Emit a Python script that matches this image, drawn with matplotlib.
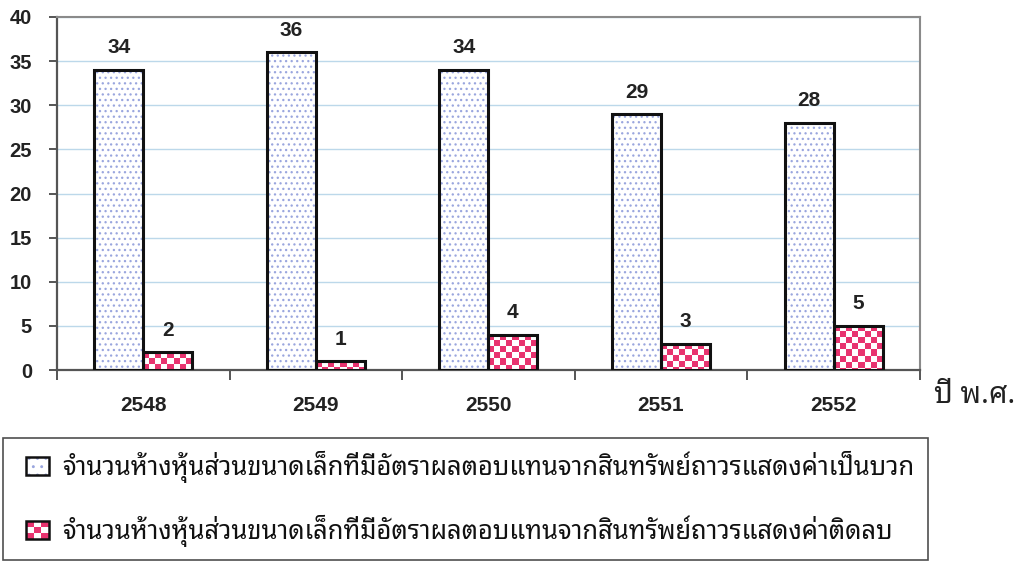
import matplotlib
matplotlib.use('Agg')
import matplotlib.pyplot as plt
from matplotlib import font_manager
from matplotlib.ft2font import FT2Font
from matplotlib.patches import Rectangle, Patch
from matplotlib.legend_handler import HandlerBase
import numpy as np

# ---------------- data ----------------
years = ['2548', '2549', '2550', '2551', '2552']
positive_counts = [34, 36, 34, 29, 28]
negative_counts = [2, 1, 4, 3, 5]
y_ticks = [0, 5, 10, 15, 20, 25, 30, 35, 40]
legend_labels = [
    'จำนวนห้างหุ้นส่วนขนาดเล็กที่มีอัตราผลตอบแทนจากสินทรัพย์ถาวรแสดงค่าเป็นบวก',
    'จำนวนห้างหุ้นส่วนขนาดเล็กที่มีอัตราผลตอบแทนจากสินทรัพย์ถาวรแสดงค่าติดลบ',
]
x_axis_title = 'ปี พ.ศ.'

# ---------------- fonts ----------------
def find_thai_font():
    prefs = ['Noto Sans Thai Looped', 'Noto Serif Thai', 'Noto Sans Thai',
             'Noto Sans Thai UI', 'Loma', 'Garuda', 'Norasi', 'Kinnari',
             'Waree', 'Sawasdee', 'Laksaman', 'TlwgTypo']
    found = {}
    for f in font_manager.fontManager.ttflist:
        try:
            cm = FT2Font(f.fname).get_charmap()
        except Exception:
            continue
        if 0x0E08 in cm and 0x0E33 in cm:
            found.setdefault(f.name, f.fname)
    for p in prefs:
        if p in found:
            return p
    if found:
        return sorted(found)[0]
    return 'DejaVu Sans'

THAI = find_thai_font()
NUM = 'Liberation Sans'

PINK = '#E8336F'
DOT = '#9AA6DE'
GRID = '#BCD8EA'
TXT = '#222222'

plt.rcParams['hatch.linewidth'] = 0.9

fig = plt.figure(figsize=(10.22, 5.65), dpi=100)
ax = fig.add_axes([0.0557, 0.345, 0.8443, 0.625])

x = np.arange(len(years))
w = 0.284

ax.set_xlim(-0.5, len(years) - 0.5)
ax.set_ylim(0, 40)

# positive bars: dotted fill
ax.bar(x - w / 2, positive_counts, w, facecolor='white', edgecolor=DOT,
       hatch='...', linewidth=0, zorder=2)
ax.bar(x - w / 2, positive_counts, w, facecolor='none', edgecolor='#111111',
       linewidth=2.2, zorder=4)

# negative bars: checker fill
neg_bars = ax.bar(x + w / 2, negative_counts, w, facecolor='white',
                  edgecolor='none', linewidth=0, zorder=2)
ax.bar(x + w / 2, negative_counts, w, facecolor='none', edgecolor='#111111',
       linewidth=2.2, zorder=4)

# checker images clipped to the bars
bbox = ax.get_position()
ax_w_px = bbox.width * fig.get_figwidth() * fig.dpi
ax_h_px = bbox.height * fig.get_figheight() * fig.dpi
cell_px = 6.0
cell_x = cell_px * (len(years)) / ax_w_px
cell_y = cell_px * 40.0 / ax_h_px
pink_rgb = np.array(matplotlib.colors.to_rgb(PINK))
for rect in neg_bars:
    x0 = rect.get_x()
    h = rect.get_height()
    nx = int(np.ceil(rect.get_width() / cell_x)) + 1
    ny = int(np.ceil(h / cell_y)) + 1
    img = (np.add.outer(np.arange(ny), np.arange(nx)) % 2)
    rgb = np.ones((ny, nx, 3))
    rgb[img == 0] = pink_rgb
    im = ax.imshow(rgb, extent=(x0, x0 + nx * cell_x, h - ny * cell_y, h),
                   origin='upper', interpolation='nearest', aspect='auto',
                   zorder=3)
    im.set_clip_path(rect)

ax.set_xlim(-0.5, len(years) - 0.5)
ax.set_ylim(0, 40)

# value labels
for xs, vals in ((x - w / 2, positive_counts), (x + w / 2, negative_counts)):
    for xi, v in zip(xs, vals):
        ax.annotate(str(v), (xi, v), xytext=(0, 9), textcoords='offset points',
                    ha='center', va='bottom', fontsize=15, fontweight='bold',
                    family=NUM, color=TXT)

# grid & spines
ax.set_yticks(y_ticks)
ax.yaxis.grid(True, color=GRID, linewidth=1.0, zorder=0)
ax.set_axisbelow(True)
for s in ['top', 'right']:
    ax.spines[s].set_color('#8a8a8a')
    ax.spines[s].set_linewidth(1.5)
for s in ['left', 'bottom']:
    ax.spines[s].set_color('#555555')
    ax.spines[s].set_linewidth(1.6)

ax.tick_params(axis='y', direction='out', length=6, width=1.4, color='#555555',
               pad=12)
for lab in ax.get_yticklabels():
    lab.set_fontfamily(NUM)
    lab.set_fontweight('bold')
    lab.set_fontsize(14.5)
    lab.set_color(TXT)

ax.set_xticks(x)
ax.set_xticklabels(years)
ax.set_xticks(np.arange(-0.5, len(years)), minor=True)
ax.tick_params(axis='x', which='major', length=0, pad=19)
ax.tick_params(axis='x', which='minor', direction='out', length=7, width=1.4,
               color='#555555')
for lab in ax.get_xticklabels():
    lab.set_fontfamily(NUM)
    lab.set_fontweight('bold')
    lab.set_fontsize(15)
    lab.set_color(TXT)

fig.text(0.954, 0.300, x_axis_title, ha='center', va='center',
         family=[THAI, 'DejaVu Sans'], fontsize=21, color=TXT)

# legend
LEAD = 0.3  # blank fraction at the left of the handle area


class CheckerHandler(HandlerBase):
    def create_artists(self, legend, orig_handle, xdescent, ydescent, width,
                       height, fontsize, trans):
        arts = []
        x0 = -xdescent + LEAD * width
        bw = width * (1 - LEAD)
        nx, ny = 3, 3
        cw, ch = bw / nx, height / ny
        for i in range(nx):
            for j in range(ny):
                c = PINK if (i + j) % 2 == 0 else 'white'
                arts.append(Rectangle((x0 + i * cw, -ydescent + j * ch),
                                      cw, ch, facecolor=c, edgecolor='none',
                                      transform=trans))
        arts.append(Rectangle((x0, -ydescent), bw, height,
                              facecolor='none', edgecolor='#111111',
                              linewidth=1.8, transform=trans))
        return arts


class DotHandler(HandlerBase):
    def create_artists(self, legend, orig_handle, xdescent, ydescent, width,
                       height, fontsize, trans):
        x0 = -xdescent + LEAD * width
        bw = width * (1 - LEAD)
        r1 = Rectangle((x0, -ydescent), bw, height, facecolor='white',
                       edgecolor=DOT, hatch='..', linewidth=0, transform=trans)
        r2 = Rectangle((x0, -ydescent), bw, height, facecolor='none',
                       edgecolor='#111111', linewidth=1.8, transform=trans)
        return [r1, r2]


h1 = Patch(label=legend_labels[0])
h2 = Rectangle((0, 0), 1, 1, label=legend_labels[1])
leg = fig.legend([h1, h2], legend_labels,
                 handler_map={Patch: DotHandler(), Rectangle: CheckerHandler()},
                 loc='lower left', bbox_to_anchor=(0.003, 0.009, 0.905, 0.2),
                 mode='expand', frameon=True, fancybox=False, edgecolor='#222222',
                 handlelength=1.3, handleheight=0.72, handletextpad=0.5,
                 labelspacing=1.25, borderpad=0.5, borderaxespad=0,
                 prop={'family': [THAI, 'DejaVu Sans'], 'size': 18.4})
leg.get_frame().set_linewidth(1.2)
for t in leg.get_texts():
    t.set_color('#111111')

fig.savefig('out.png', dpi=100)
